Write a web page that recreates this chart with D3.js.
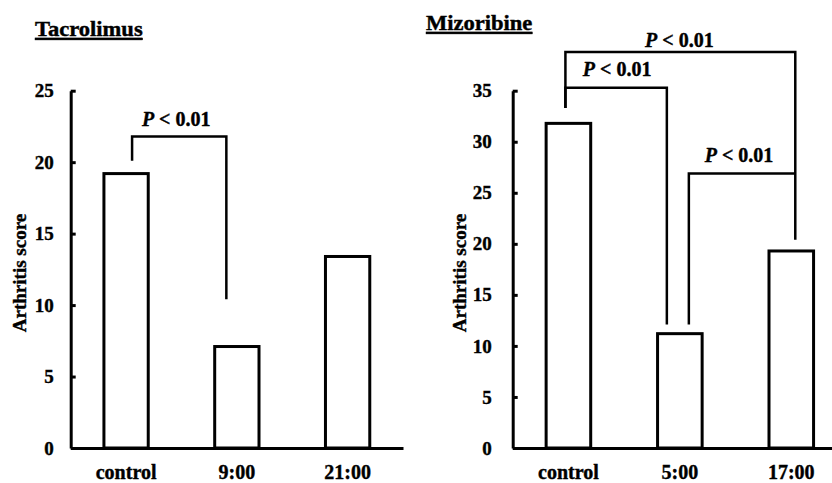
<!DOCTYPE html>
<html>
<head>
<meta charset="utf-8">
<script src="https://cdnjs.cloudflare.com/ajax/libs/d3/7.8.5/d3.min.js"></script>
<style>
  body { margin: 0; background: #fff; }
  svg text { font-family: "Liberation Serif", "Times New Roman", serif; font-weight: bold; fill: #000; stroke: #000; stroke-width: 0.4px; }
</style>
</head>
<body>
<div id="chart"></div>
<script>
// Tacrolimus panel
var tacroCategories = ["control", "9:00", "21:00"];
var tacroScores = [19.2, 7.1, 13.4];
var tacroTicks = [0, 5, 10, 15, 20, 25];

// Mizoribine panel
var mizoCategories = ["control", "5:00", "17:00"];
var mizoScores = [31.8, 11.2, 19.3];
var mizoTicks = [0, 5, 10, 15, 20, 25, 30, 35];

// significance brackets: from / to category, bar level, leg ends
var tacroBrackets = [
    {from: "control", to: "9:00", top: 21.8, fromEnd: 20.1, toEnd: 10.4, label: "P < 0.01"}
];
var mizoBrackets = [
    {from: "control", to: "17:00", top: 38.8, fromEnd: 33.3, toEnd: 20.4, label: "P < 0.01"},
    {from: "control", to: "5:00", top: 35.3, fromEnd: 33.3, toEnd: 12.1, label: "P < 0.01"},
    {from: "5:00", to: "17:00", top: 26.9, fromEnd: 12.1, toEnd: 26.9, label: "P < 0.01"}
];

var width = 832, height = 483;

var svg = d3.select("#chart").append("svg")
    .attr("width", width)
    .attr("height", height);

function drawPanel(opt) {
    var g = svg.append("g");

    var x = d3.scaleBand()
        .domain(opt.categories)
        .range([opt.left, opt.right])
        .paddingInner(0.6)
        .paddingOuter(0.3);

    var y = d3.scaleLinear()
        .domain([0, opt.max])
        .range([448, 90.7]);

    // bars
    g.selectAll("rect.bar")
        .data(opt.scores).enter()
        .append("rect")
            .attr("class", "bar")
        .attr("x", function(d, i) { return x(opt.categories[i]); })
        .attr("y", function(d) { return y(d); })
        .attr("width", x.bandwidth())
        .attr("height", function(d) { return y(0) - y(d); })
        .attr("fill", "#fff")
        .attr("stroke", "#000")
        .attr("stroke-width", 3);

    // y axis
    var yAxis = g.append("g")
        .attr("transform", "translate(" + opt.left + ",0)")
        .call(d3.axisLeft(y)
            .tickValues(opt.ticks)
            .tickSizeInner(-5)
            .tickSizeOuter(0)
            .tickPadding(opt.tickPad));
    yAxis.select(".domain").attr("stroke-width", 3);
    yAxis.selectAll(".tick line").attr("stroke-width", 3);
    yAxis.selectAll(".tick text")
        .attr("font-size", 19)
        .style("font-family", "'Liberation Serif', 'Times New Roman', serif");

    // x axis
    var xAxis = g.append("g")
        .attr("transform", "translate(0,448)")
        .call(d3.axisBottom(x).tickSize(0).tickPadding(17));
    xAxis.select(".domain").attr("stroke-width", 3);
    xAxis.selectAll(".tick text")
        .attr("font-size", 20)
        .style("font-family", "'Liberation Serif', 'Times New Roman', serif");

    // y label
    g.append("text")
        .attr("transform", "translate(" + opt.labelX + ",273) rotate(-90)")
        .attr("text-anchor", "middle")
        .attr("dy", "0.35em")
        .attr("font-size", 19)
        .text("Arthritis score");

    // title
    g.append("text")
        .attr("transform", "translate(" + opt.titleX + "," + opt.titleY + ") scale(1.1,1)")
        .attr("font-size", 20.5)
        .style("text-decoration", "underline")
        .text(opt.title);

    // brackets
    opt.brackets.forEach(function(b, i) {
        var off = opt.legOffsets[i];
        var x1 = x(b.from) + x.bandwidth() / 2 + off[0];
        var x2 = x(b.to) + x.bandwidth() / 2 + off[1];
        g.append("path")
            .attr("d", "M" + x1 + "," + y(b.fromEnd) + "V" + y(b.top) + "H" + x2 + "V" + y(b.toEnd))
            .attr("fill", "none")
            .attr("stroke", "#000")
            .attr("stroke-width", 2.5);
        var t = g.append("text")
            .attr("x", (x1 + x2) / 2 + off[2])
            .attr("y", y(b.top) - off[3])
            .attr("text-anchor", "middle")
            .attr("font-size", 20);
        var parts = b.label.split(" ");
        t.append("tspan").attr("font-style", "italic").text(parts[0]);
        t.append("tspan").text(" " + parts.slice(1).join(" "));
    });
}

drawPanel({
    categories: tacroCategories, scores: tacroScores, ticks: tacroTicks, max: 25,
    brackets: tacroBrackets, legOffsets: [[6, -10.5, -3, 10]],
    left: 70.7, right: 403, tickPad: 17, labelX: 19,
    title: "Tacrolimus", titleX: 35, titleY: 36
});

drawPanel({
    categories: mizoCategories, scores: mizoScores, ticks: mizoTicks, max: 35,
    brackets: mizoBrackets, legOffsets: [[-3, 4, -1, 4.5], [-3, -13, 1, 11.5], [9, 4, -3, 11.5]],
    left: 512.7, right: 847, tickPad: 21, labelX: 459,
    title: "Mizoribine", titleX: 426, titleY: 30
});
</script>
</body>
</html>
